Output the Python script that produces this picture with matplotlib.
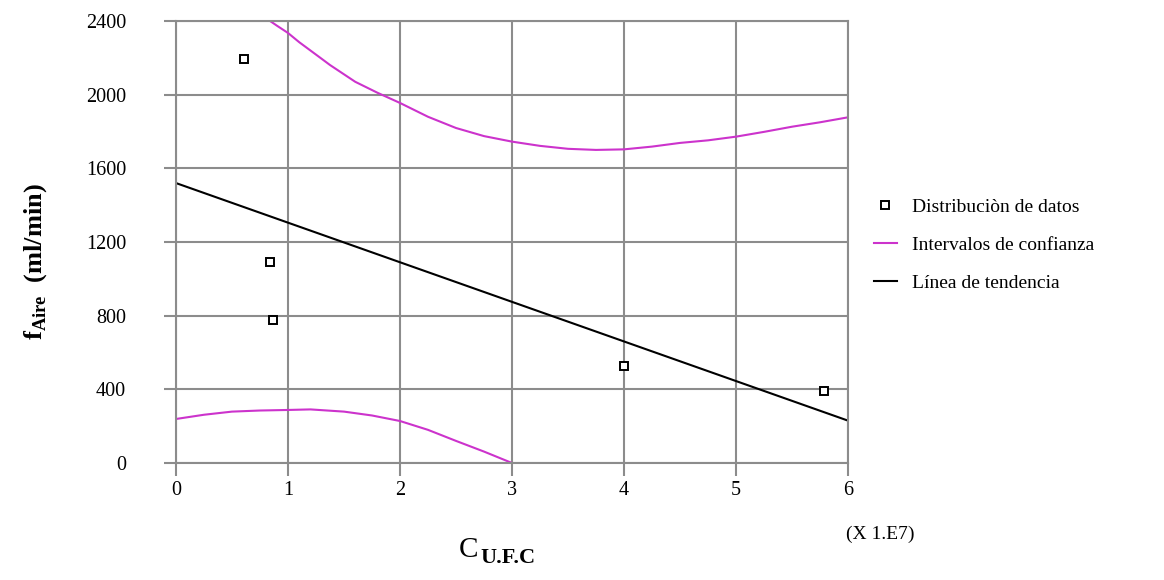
import matplotlib.pyplot as plt

plt.rcParams['font.family'] = ['Liberation Serif', 'DejaVu Serif']
plt.rcParams['mathtext.fontset'] = 'custom'
plt.rcParams['mathtext.rm'] = 'Liberation Serif'
plt.rcParams['mathtext.bf'] = 'Liberation Serif:bold'

# datos
x_datos = [0.61, 0.84, 0.87, 4.0, 5.79]
y_datos = [2194, 1091, 776, 527, 391]

x_tend = [0, 6]
y_tend = [1520, 230]

x_sup = [0.84, 0.9, 1.0, 1.1, 1.2, 1.3, 1.375, 1.6, 1.8, 2.0, 2.25, 2.5, 2.75, 3.0,
         3.25, 3.5, 3.75, 4.0, 4.25, 4.5, 4.75, 5.0, 5.25, 5.5, 5.75, 6.0]
y_sup = [2400, 2375, 2335, 2285, 2240, 2195, 2161, 2070, 2010, 1955, 1880, 1819, 1775, 1745,
         1722, 1706, 1700, 1703, 1718, 1738, 1752, 1772, 1798, 1826, 1850, 1877]

x_inf = [0, 0.25, 0.5, 0.75, 1.0, 1.2, 1.5, 1.75, 2.0, 2.25, 2.5, 2.75, 3.0]
y_inf = [239, 262, 279, 285, 288, 291, 279, 258, 228, 180, 120, 62, 0]

gris = '#8c8c8c'
magenta = '#cc33cc'

fig = plt.figure(figsize=(11.64, 5.8), dpi=100)
ax = fig.add_axes([176/1164, 1-463/580, 672/1164, 442/580])

ax.plot(x_sup, y_sup, color=magenta, lw=1.5, label='Intervalos de confianza')
ax.plot(x_inf, y_inf, color=magenta, lw=1.5)
ax.plot(x_tend, y_tend, color='black', lw=1.5, label='Línea de tendencia')
ax.plot(x_datos, y_datos, ls='none', marker='s', ms=6, mfc='white', mec='black', mew=1.4,
        label='Distribuciòn de datos')

ax.set_xlim(0, 6)
ax.set_ylim(0, 2400)
ax.set_xticks(range(7))
ax.set_yticks(range(0, 2401, 400))
ax.grid(True, color=gris, lw=1.5)
for s in ax.spines.values():
    s.set_color(gris)
    s.set_linewidth(1.5)
ax.tick_params(axis='both', colors=gris, length=9, width=1.5, labelsize=14.5, labelcolor='black')
ax.tick_params(axis='y', pad=27)
ax.tick_params(axis='x', pad=4)
ax.set_axisbelow(True)

fig.text(36/1164, 1-262/580, r'$\mathbf{f}_{\mathbf{Aire}}$  (ml/min)', fontsize=19,
         fontweight='bold', rotation=90, ha='center', va='center')
fig.text(478/1164, 1-550/580, 'C', fontsize=21, ha='right', va='center')
fig.text(480/1164, 1-558/580, 'U.F.C', fontsize=16, fontweight='bold', ha='left', va='center')
fig.text(880/1164, 1-534/580, '(X 1.E7)', fontsize=14, ha='center', va='center')

h, l = ax.get_legend_handles_labels()
orden = [2, 0, 1]
fig.legend([h[i] for i in orden], [l[i] for i in orden], loc='upper left',
           bbox_to_anchor=(856/1164, 1-181/580), frameon=False, fontsize=14,
           handlelength=1.2, labelspacing=1.05, handletextpad=0.8)

fig.savefig('out.png', dpi=100, facecolor='white')
